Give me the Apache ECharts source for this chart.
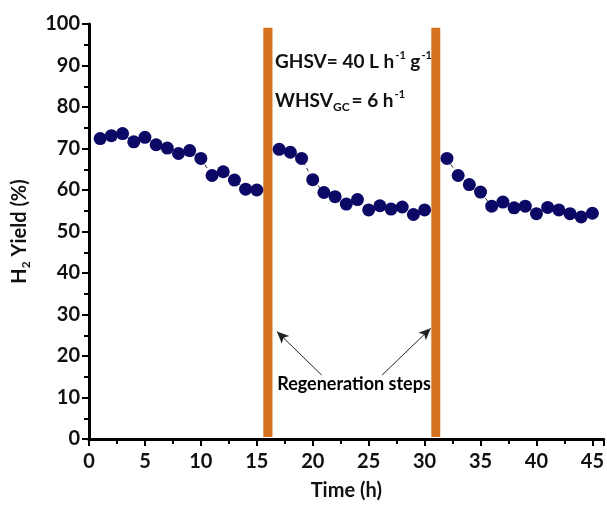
<!DOCTYPE html>
<html lang="en">
<head>
    <meta charset="UTF-8">
    <title>H2 Yield</title>
    <script src="https://cdn.jsdelivr.net/npm/echarts@6/dist/echarts.min.js"></script>
    <style>
        html,body{margin:0;padding:0;background:#fff}
        #chart{width:607px;height:506px}
    </style>
</head>
<body>
    <div id="chart"></div>
    <script>
        // hours of each run and the H2 yield
        var hours1=[1,2,3,4,5,6,7,8,9,10,11,12,13,14,15];
        var yield1=[72.4,73.1,73.6,71.6,72.7,70.9,70.1,68.8,69.5,67.6,63.5,64.4,62.4,60.2,60.0];
        var hours2=[17,18,19,20,21,22,23,24,25,26,27,28,29,30];
        var yield2=[69.8,69.1,67.6,62.5,59.4,58.4,56.6,57.7,55.2,56.2,55.4,55.9,54.1,55.2];
        var hours3=[32,33,34,35,36,37,38,39,40,41,42,43,44,45];
        var yield3=[67.6,63.5,61.3,59.5,56.1,57.1,55.7,56.1,54.3,55.8,55.2,54.3,53.5,54.4];
        // regeneration steps (x range of orange bars)
        var regenSteps=[[15.58,16.4],[30.6,31.4]];

        var font='Lato';
        var navy='#0c0866';
        var orange='#d5731f';

        function pairs(xs,ys){
            var out=[];
            for(var i=0;i<xs.length;i++){out.push([xs[i],ys[i]]);}
            return out;
        }
        function runSeries(name,xs,ys){
            return {
                name:name,
                type:'line',
                data:pairs(xs,ys),
                symbol:'circle',
                symbolSize:13,
                itemStyle:{color:navy},
                lineStyle:{color:'#333',width:1,type:[4,3]},
                z:5,
                animation:false
            };
        }

        var chart=echarts.init(document.getElementById('chart'));
        var s1=runSeries('run1',hours1,yield1);
        s1.markArea={
            silent:true,
            itemStyle:{color:orange},
            data:regenSteps.map(function(r){
                return [{xAxis:r[0],yAxis:0.5},{xAxis:r[1],yAxis:99.1}];
            })
        };
        s1.markLine={
            silent:true,
            symbol:['none','arrow'],
            symbolSize:[8,12],
            label:{show:false},
            lineStyle:{color:'#222',width:1,type:'solid'},
            data:[
                [{coord:[20.8,15.4]},{coord:[16.8,25.9]}],
                [{coord:[26.2,15.4]},{coord:[30.55,26.7]}]
            ]
        };

        var option={
            animation:false,
            grid:{left:89,right:0,top:24,bottom:65},
            xAxis:[{
                type:'value',
                min:0,max:46,interval:5,
                name:'Time (h)',
                nameLocation:'middle',
                nameGap:42,
                nameTextStyle:{fontFamily:font,fontWeight:'bold',fontSize:20,color:'#111'},
                axisLine:{onZero:false,lineStyle:{color:'#000',width:3}},
                axisTick:{length:7,lineStyle:{color:'#000',width:2}},
                minorTick:{show:true,splitNumber:2,length:5,lineStyle:{color:'#000',width:2}},
                axisLabel:{fontFamily:font,fontWeight:'bold',fontSize:20,color:'#111',margin:13,showMaxLabel:false},
                splitLine:{show:false}
            },{
                type:'value',
                position:'top',
                min:0,max:46,
                axisLine:{show:true,lineStyle:{color:'#000',width:3}},
                axisTick:{show:false},
                axisLabel:{show:false},
                splitLine:{show:false}
            }],
            yAxis:{
                type:'value',
                min:0,max:100,interval:10,
                name:'{a|H}{s|2}{a| Yield (%)}',
                nameLocation:'middle',
                nameGap:57,
                nameTextStyle:{
                    rich:{
                        a:{fontFamily:font,fontWeight:'bold',fontSize:20,color:'#111'},
                        s:{fontFamily:font,fontWeight:'bold',fontSize:12,color:'#111',padding:[12,0,0,0]}
                    }
                },
                axisLine:{lineStyle:{color:'#000',width:3}},
                axisTick:{length:7,lineStyle:{color:'#000',width:2}},
                minorTick:{show:true,splitNumber:2,length:5,lineStyle:{color:'#000',width:2}},
                axisLabel:{fontFamily:font,fontWeight:'bold',fontSize:20,color:'#111',margin:9},
                splitLine:{show:false}
            },
            graphic:[{
                type:'text',
                left:275,top:50,
                style:{
                    text:'{a|GHSV= 40 L h}{p|-1}{a| g}{p|-1}',
                    rich:{
                        a:{fontFamily:font,fontWeight:'bold',fontSize:19,fill:'#111'},
                        p:{fontFamily:font,fontWeight:'bold',fontSize:11,fill:'#111',padding:[0,0,12,1]}
                    }
                }
            },{
                type:'text',
                left:275,top:89,
                style:{
                    text:'{a|WHSV}{b|GC}{a|= 6 h}{p|-1}',
                    rich:{
                        a:{fontFamily:font,fontWeight:'bold',fontSize:19,fill:'#111'},
                        b:{fontFamily:font,fontWeight:'bold',fontSize:12,fill:'#111',padding:[14,2,0,0]},
                        p:{fontFamily:font,fontWeight:'bold',fontSize:11,fill:'#111',padding:[0,0,12,1]}
                    }
                }
            },{
                type:'text',
                x:354,y:384,
                style:{
                    text:'Regeneration steps',
                    align:'center',
                    verticalAlign:'middle',
                    fontFamily:font,fontWeight:'bold',fontSize:18,fill:'#000'
                }
            }],
            series:[
                s1,
                runSeries('run2',hours2,yield2),
                runSeries('run3',hours3,yield3)
            ]
        };
        chart.setOption(option);
    </script>
</body>
</html>
